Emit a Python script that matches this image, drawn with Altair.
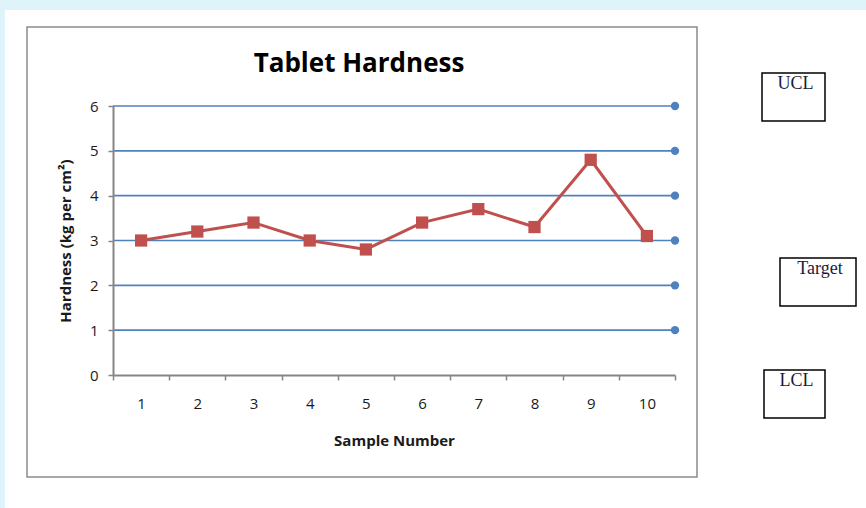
import altair as alt
import pandas as pd

# ---- data ----
samples = [1, 2, 3, 4, 5, 6, 7, 8, 9, 10]
hardness = [3.0, 3.2, 3.4, 3.0, 2.8, 3.4, 3.7, 3.3, 4.8, 3.1]
levels = [1, 2, 3, 4, 5, 6]
level_at = [10, 10, 10, 10, 10, 10]
box_labels = ["UCL", "Target", "LCL"]
chart_title = "Tablet Hardness"
y_title = "Hardness (kg per cm²)"
x_title = "Sample Number"

W, H = 562, 269
PL, PT = 113, 106  # plot origin in the page

df = pd.DataFrame({"sample": samples, "value": hardness})
lv = pd.DataFrame({"sample": level_at, "value": levels})

FONT = "Open Sans"
GRAY = "#868686"
RED = "#c0504d"
BLUE = "#4f81bd"
TXT = "#1a1a1a"

x_axis = alt.Axis(
    labelAngle=0, tickBand="extent", title=x_title, grid=False,
    domainColor=GRAY, domainWidth=2, tickColor=GRAY, tickWidth=1.5, tickSize=5,
    labelFont=FONT, labelFontSize=15, labelColor=TXT, labelPadding=16,
    titleFont=FONT, titleFontSize=15, titleFontWeight="bold", titleColor=TXT,
    titlePadding=22, zindex=1,
)
y_axis = alt.Axis(
    values=[0, 1, 2, 3, 4, 5, 6], title=y_title, grid=False,
    domainColor=GRAY, domainWidth=2, tickColor=GRAY, tickWidth=1.5, tickSize=5,
    labelFont=FONT, labelFontSize=15, labelColor=TXT, labelPadding=10,
    titleFont=FONT, titleFontSize=15, titleFontWeight="bold", titleColor=TXT,
    titlePadding=16, zindex=1,
)
x_scale = alt.Scale(domain=samples, paddingInner=0, paddingOuter=0)
y_scale = alt.Scale(domain=[0, 6], nice=False)

one = alt.Data(values=[{}])

panel = alt.Chart(one).mark_rect(fill="white").encode(
    x=alt.value(5 - PL), x2=alt.value(866 - PL), y=alt.value(10 - PT), y2=alt.value(508 - PT))
frame = alt.Chart(one).mark_rect(fill="white", stroke="#8c8c8c", strokeWidth=1.5).encode(
    x=alt.value(27 - PL), x2=alt.value(697 - PL), y=alt.value(27 - PT), y2=alt.value(477 - PT))

boxes_pos = [(762, 825, 73, 121), (780, 856, 258, 306), (764, 825, 370, 418)]
boxes = []
for (x1, x2, y1, y2), lab in zip(boxes_pos, box_labels):
    boxes.append(alt.Chart(one).mark_rect(fill="white", stroke="black", strokeWidth=1.5).encode(
        x=alt.value(x1 - PL), x2=alt.value(x2 - PL), y=alt.value(y1 - PT), y2=alt.value(y2 - PT)))
    boxes.append(alt.Chart(one).mark_text(
        text=lab, font="Liberation Serif", fontSize=18, color="#1a1a40", baseline="top", align="center"
    ).encode(x=alt.value((x1 + x2) / 2 - PL + 2), y=alt.value(y1 + 2 - PT)))

title = alt.Chart(one).mark_text(
    text=chart_title, font=FONT, fontSize=26, fontWeight="bold", color="black", baseline="middle"
).encode(x=alt.value(359 - PL), y=alt.value(64 - PT))

X = alt.X("sample:O", scale=x_scale, axis=x_axis, bandPosition=0.5)
Y = alt.Y("value:Q", scale=y_scale, axis=y_axis)

rules = alt.Chart(lv).mark_rule(color=BLUE, strokeWidth=1.6).encode(y=Y)
dots = alt.Chart(lv).mark_point(filled=True, shape="circle", size=70, color=BLUE, opacity=1).encode(
    x=alt.X("sample:O", scale=x_scale, axis=x_axis, bandPosition=1), y=Y)
line = alt.Chart(df).mark_line(color=RED, strokeWidth=3).encode(x=X, y=Y)
pts = alt.Chart(df).mark_point(filled=True, shape="square", size=150, color=RED, opacity=1).encode(x=X, y=Y)

chart = alt.layer(panel, frame, *boxes, title, rules, line, pts, dots).properties(
    width=W, height=H,
    padding={"left": PL, "top": PT, "right": 866 - PL - W, "bottom": 508 - PT - H},
    autosize=alt.AutoSizeParams(type="none"),
    background="#dff3fa",
).configure_view(stroke=None)

chart.save("out.html", embed_options={"renderer": "svg", "actions": False})
